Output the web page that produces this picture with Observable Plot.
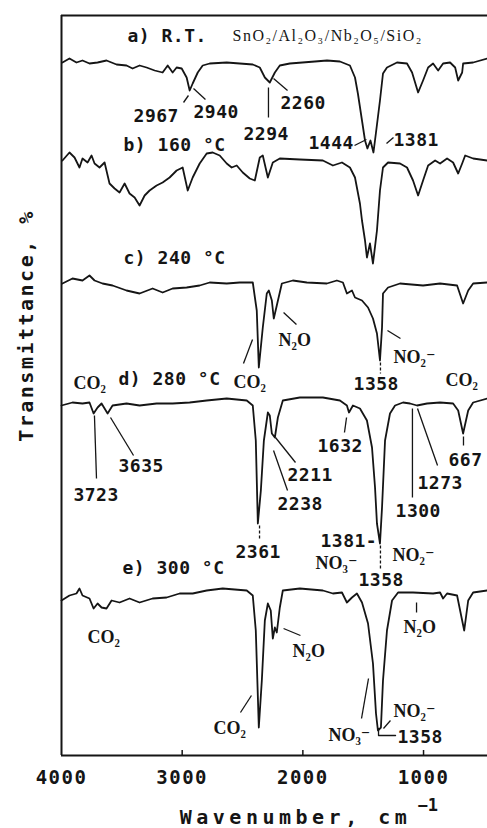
<!DOCTYPE html>
<html><head><meta charset="utf-8">
<script src="https://cdn.jsdelivr.net/npm/d3@7"></script>
<script src="https://cdn.jsdelivr.net/npm/@observablehq/plot@0.6"></script>
<style>
html,body{margin:0;padding:0;background:#fff;}
#chart svg{display:block;background:#fff;}
g[aria-description="numbers"] text{letter-spacing:0.5px;}
g[aria-description="panels"] text{letter-spacing:0.5px;}
g[aria-description="xtitle"] text{letter-spacing:4.5px;}
g[aria-description="ytitle"] text{letter-spacing:2.5px;}
g[aria-description="ticklabels"] text{letter-spacing:1.5px;}
g[aria-description="sample"] text{letter-spacing:1.5px;}
</style></head><body><div id="chart"></div>
<script>
// Spectra: [wavenumber (cm-1), offset transmittance (arb.)]
const specA = [[3992,693],[3934,697],[3876,693],[3826,695],[3768,692],[3701,693],[3627,695],[3544,691],[3461,690],[3411,687],[3353,690],[3295,688],[3228,685],[3162,683],[3120,690],[3079,683],[3046,688],[3004,687],[2963,678],[2938,665],[2913,672],[2871,683],[2830,690],[2772,692],[2631,693],[2523,692],[2415,691],[2357,688],[2315,678],[2274,673],[2232,683],[2191,690],[2108,692],[1900,694],[1800,695],[1693,694],[1610,690],[1568,678],[1544,662],[1510,635],[1485,615],[1465,607],[1440,615],[1415,603],[1395,622],[1361,655],[1336,682],[1303,688],[1220,693],[1137,692],[1095,683],[1045,663],[1004,675],[962,688],[921,692],[879,685],[838,692],[780,693],[738,688],[713,675],[680,683],[672,692],[589,693],[473,697]];
const specB = [[3992,595],[3934,603],[3892,598],[3851,588],[3826,597],[3784,593],[3751,600],[3726,592],[3685,588],[3643,593],[3602,572],[3560,567],[3519,563],[3477,572],[3436,562],[3394,558],[3353,550],[3311,560],[3270,565],[3212,570],[3162,573],[3104,578],[3046,585],[2996,588],[2954,565],[2913,578],[2855,592],[2797,602],[2747,603],[2689,600],[2631,592],[2590,588],[2548,590],[2498,583],[2440,577],[2398,575],[2357,598],[2332,600],[2290,578],[2249,593],[2191,597],[2025,596],[1834,595],[1751,590],[1676,593],[1610,588],[1568,578],[1527,552],[1510,535],[1485,515],[1469,498],[1444,512],[1419,492],[1386,525],[1361,565],[1336,588],[1294,593],[1195,592],[1137,588],[1087,575],[1045,560],[1004,575],[962,590],[904,595],[863,592],[805,597],[755,593],[713,582],[680,592],[655,600],[589,597],[473,595]];
const specC = [[3992,472],[3909,477],[3826,475],[3768,480],[3726,475],[3660,472],[3577,470],[3461,465],[3353,462],[3245,467],[3162,463],[3079,467],[2963,468],[2855,470],[2772,473],[2631,472],[2523,473],[2415,473],[2382,445],[2365,388],[2332,428],[2299,462],[2282,465],[2257,455],[2241,437],[2216,450],[2174,472],[2083,475],[1967,473],[1801,472],[1718,475],[1668,473],[1635,462],[1593,465],[1568,458],[1510,455],[1460,448],[1419,437],[1386,422],[1361,395],[1344,428],[1336,462],[1294,468],[1195,472],[1004,470],[863,472],[722,470],[672,452],[630,465],[589,472],[473,473]];
const specD = [[4000,350],[3909,353],[3826,352],[3768,353],[3734,342],[3701,348],[3668,352],[3618,342],[3577,350],[3461,352],[3353,350],[3212,352],[3079,352],[2938,353],[2797,355],[2631,357],[2465,355],[2415,350],[2390,315],[2373,232],[2348,265],[2323,315],[2290,343],[2274,340],[2257,322],[2232,318],[2207,338],[2166,355],[2025,358],[1834,358],[1693,355],[1635,350],[1618,343],[1585,350],[1527,347],[1469,335],[1427,308],[1402,268],[1386,232],[1361,212],[1344,248],[1319,315],[1278,342],[1236,350],[1170,353],[1112,352],[1054,350],[971,352],[863,353],[755,352],[713,345],[672,322],[630,345],[589,353],[473,357]];
const specE = [[4000,155],[3934,160],[3876,162],[3851,167],[3826,160],[3768,157],[3734,147],[3701,152],[3668,148],[3627,147],[3585,155],[3519,153],[3436,157],[3353,153],[3245,157],[3129,158],[3021,162],[2913,162],[2797,165],[2664,167],[2465,165],[2415,160],[2390,125],[2365,28],[2340,75],[2315,135],[2290,152],[2266,145],[2249,117],[2232,128],[2216,123],[2191,148],[2166,165],[2025,167],[1834,165],[1751,162],[1676,163],[1635,153],[1593,158],[1552,162],[1510,153],[1460,132],[1419,92],[1394,42],[1378,25],[1353,28],[1336,75],[1303,125],[1261,155],[1211,163],[1087,163],[921,162],[863,163],[838,157],[805,162],[722,160],[680,135],[663,125],[630,155],[589,163],[473,165]];

// Tick values
const tickMarks = [3000, 2000, 1000];
const tickLabels = [4000, 3000, 2000, 1000];

// Labels: [wavenumber, level, text]
const panelLabels = [[3453,714,"a) R.T."],[3486,605,"b) 160 °C"],[3486,492,"c) 240 °C"],[3528,371,"d) 280 °C"],[3495,182,"e) 300 °C"]];
const sampleLabel = [[2583,715,"SnO₂/Al₂O₃/Nb₂O₅/SiO₂"]];
const peakLabels = [[3403,634,"2967"],[2906,638,"2940"],[2185,647,"2260"],[2492,616,"2294"],[1953,607,"1444"],[1249,610,"1381"],[1580,366,"1358"],[3901,255,"3723"],[3528,284,"3635"],[1879,304,"1632"],[2127,275,"2211"],[2210,246,"2238"],[2558,198,"2361"],[1854,209,"1381-"],[1539,170,"1358"],[1232,239,"1300"],[1050,267,"1273"],[793,290,"667"],[1216,13,"1358"]];
const speciesLabels = [[2202,410,"N₂O"],[2575,368,"CO₂"],[1249,393,"NO₂⁻"],[818,370,"CO₂"],[3901,367,"CO₂"],[1895,187,"NO₃⁻"],[1257,195,"NO₂⁻"],[3785,113,"CO₂"],[2086,99,"N₂O"],[1166,123,"N₂O"],[2741,22,"CO₂"],[1788,15,"NO₃⁻"],[1249,39,"NO₂⁻"]];

// Leader lines: [w1, v1, w2, v2]
const leaders = [[2989,653,2948,660],[2906,667,2807,656],[2243,677,2127,665],[2285,668,2285,638],[1572,610,1473,616],[1307,612,1249,618],
  [2160,443,2053,431],[2492,392,2417,416],[1299,425,1191,417],
  [3727,340,3710,277],[3594,338,3403,300],[1638,338,1655,323],[2227,318,2061,293],[2243,305,2127,265],[1092,347,1092,258],[1050,347,884,290],[669,319,669,310],
  [2160,127,2020,120],[1058,153,1058,143],[2517,43,2426,60],[1514,37,1456,77],[1332,27,1274,35]];
const dashedLeaders = [[1357,393,1357,382],[2359,230,2359,217],[1357,210,1357,185]];
const bracket1358 = [[1373,27],[1373,20],[1232,20]];

const ink = "#151515";
const mono = "'DejaVu Sans Mono', monospace";
const serif = "'Liberation Serif', 'DejaVu Serif', serif";
const xy = {x: d => d[0], y: d => d[1]};
const trace = {stroke: ink, strokeWidth: 1.8, strokeLinejoin: "round"};
const txt = {x: d => d[0], y: d => d[1], text: d => d[2], textAnchor: "start", lineAnchor: "bottom", fill: ink};

const chart = Plot.plot({
  width: 487, height: 828,
  marginLeft: 61, marginRight: 0, marginTop: 15, marginBottom: 73,
  x: {domain: [4000, 470], axis: null},
  y: {domain: [0, 740], axis: null},
  marks: [
    Plot.ruleX([4000], {stroke: ink, strokeWidth: 2}),
    Plot.ruleY([0], {stroke: ink, strokeWidth: 2}),
    Plot.ruleY([740], {stroke: ink, strokeWidth: 2}),
    Plot.ruleX(tickMarks, {y1: 0, y2: 5, stroke: ink, strokeWidth: 1.5}),
    ...[specA, specB, specC, specD, specE].map(s => Plot.line(s, {...xy, ...trace})),
    Plot.link(leaders, {x1: d => d[0], y1: d => d[1], x2: d => d[2], y2: d => d[3], stroke: ink, strokeWidth: 1.3}),
    Plot.link(dashedLeaders, {x1: d => d[0], y1: d => d[1], x2: d => d[2], y2: d => d[3], stroke: ink, strokeWidth: 1.3, strokeDasharray: "3,2"}),
    Plot.line(bracket1358, {...xy, stroke: ink, strokeWidth: 1.3}),
    Plot.text(panelLabels, {...txt, fontFamily: mono, fontSize: 18, fontWeight: "bold", ariaDescription: "panels"}),
    Plot.text(peakLabels, {...txt, fontFamily: mono, fontSize: 18, fontWeight: "bold", ariaDescription: "numbers"}),
    Plot.text(speciesLabels, {...txt, fontFamily: serif, fontSize: 18, fontWeight: "bold", ariaDescription: "species"}),
    Plot.text(sampleLabel, {...txt, fontFamily: serif, fontSize: 16, ariaDescription: "sample"}),
    Plot.text(tickLabels, {x: d => d, text: d => String(d), frameAnchor: "bottom", dy: 28, lineAnchor: "bottom", textAnchor: "middle", fontFamily: mono, fontSize: 19, fontWeight: "bold", fill: ink, ariaDescription: "ticklabels"}),
    Plot.text(["Wavenumber, cm"], {text: d => d, frameAnchor: "bottom", dx: 21, dy: 68, lineAnchor: "bottom", textAnchor: "middle", fontFamily: mono, fontSize: 20, fontWeight: "bold", fill: ink, ariaDescription: "xtitle"}),
    Plot.text(["−1"], {text: d => d, frameAnchor: "bottom", dx: 143, dy: 55, lineAnchor: "bottom", textAnchor: "start", fontFamily: mono, fontSize: 17, fontWeight: "bold", fill: ink}),
    Plot.text(["Transmittance, %"], {text: d => d, frameAnchor: "left", rotate: -90, dx: -29, dy: -60, lineAnchor: "bottom", textAnchor: "middle", fontFamily: mono, fontSize: 20, fontWeight: "bold", fill: ink, ariaDescription: "ytitle"})
  ]
});
document.getElementById("chart").appendChild(chart);
</script></body></html>
